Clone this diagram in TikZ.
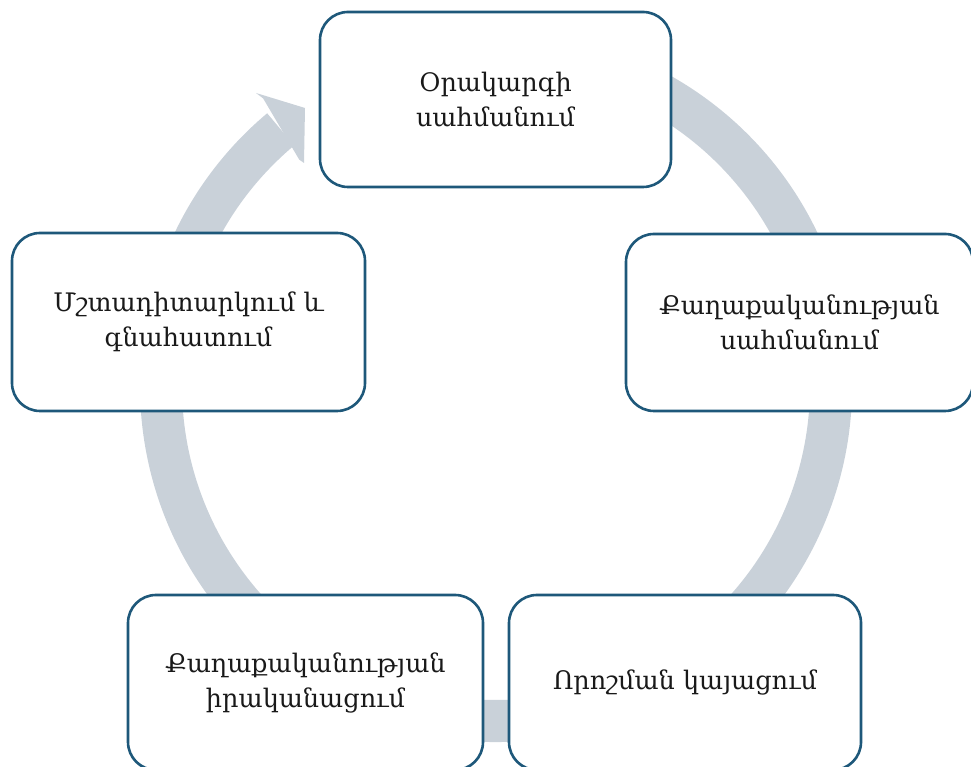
\documentclass[tikz,border=0pt]{standalone}
\usepackage{fontspec}
\setmainfont{DejaVu Serif}
\definecolor{boxline}{RGB}{30,88,122}
\definecolor{band}{RGB}{201,209,217}
\definecolor{txt}{RGB}{25,25,25}
\begin{document}
\begin{tikzpicture}[x=1pt,y=1pt,
  stage/.style={draw=boxline, line width=2.6pt, fill=white, rounded corners=28pt,
    minimum width=352pt, minimum height=176pt, inner sep=0pt, align=center,
    text=txt, font=\fontsize{25.5}{35}\selectfont}]
\useasboundingbox (0,0) rectangle (971,767);
\clip (0,0) rectangle (971,767);
% circular arrow
\coordinate (c) at (496,381);
\fill[band] ([shift={(100:356)}]c) arc[start angle=100, end angle=-230, radius=356]
  -- ([shift={(130:314)}]c) arc[start angle=-230, end angle=100, radius=314] -- cycle;
\coordinate (barbout) at (256,674);
\coordinate (tip) at (305,659);
\coordinate (barbin) at (304,604);
\fill[band] (barbout) -- (tip) -- (barbin) -- ([shift={(131:300)}]c) -- ([shift={(129:370)}]c) -- cycle;
% boxes
\node[stage, minimum width=351pt, minimum height=175pt] (top) at (495.5,667.5) {Օրակարգի\\սահմանում};
\node[stage, minimum width=347pt, minimum height=177pt] (right) at (799.5,444.5) {Քաղաքականության\\սահմանում};
\node[stage, minimum width=352pt, minimum height=175pt] (bright) at (685,84.5) {Որոշման կայացում};
\node[stage, minimum width=355pt, minimum height=175pt] (bleft) at (305.5,84.5) {Քաղաքականության\\իրականացում};
\node[stage, minimum width=353pt, minimum height=178pt] (left) at (188.5,445) {Մշտադիտարկում և\\գնահատում};
\end{tikzpicture}
\end{document}
